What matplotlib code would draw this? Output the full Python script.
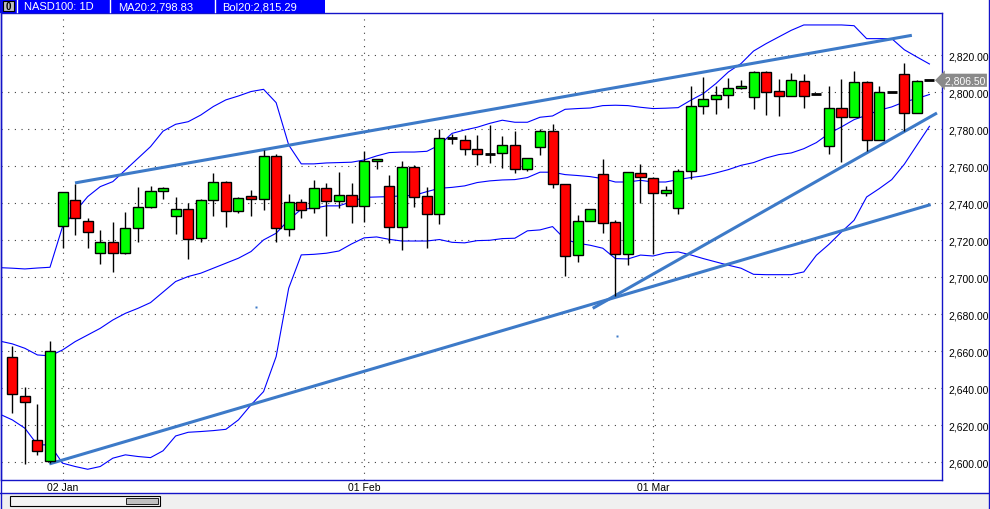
import numpy as np
import matplotlib
matplotlib.use('Agg')
import matplotlib.pyplot as plt
from matplotlib.patches import Rectangle
from matplotlib.ticker import FuncFormatter

# daily OHLC, NASD100
opens = [2656.8, 2635.7, 2611.9, 2600.7, 2727.6, 2741.6, 2730.3, 2713.0, 2719.3, 2713.0,
         2726.5, 2737.8, 2746.5, 2733.0, 2736.8, 2721.1, 2741.6, 2751.4, 2735.7, 2743.8,
         2742.2, 2765.4, 2726.0, 2740.5, 2737.5, 2748.1, 2741.1, 2744.3, 2738.4, 2762.7,
         2749.2, 2727.0, 2759.5, 2743.8, 2734.1, 2775.3, 2774.1, 2769.2, 2766.8, 2767.0,
         2771.4, 2758.4, 2770.3, 2778.9, 2750.3, 2711.9, 2730.3, 2755.7, 2729.7, 2712.4,
         2756.2, 2753.9, 2745.8, 2737.7, 2757.7, 2792.8, 2796.6, 2798.7, 2802.5, 2797.7,
         2811.2, 2800.9, 2798.2, 2806.3, 2798.9, 2771.2, 2791.7, 2786.8, 2805.8, 2774.4,
         2800.4, 2810.1, 2789.0, 2806.5]
highs = [2663.1, 2640.5, 2631.5, 2665.4, 2746.2, 2750.3, 2732.1, 2725.4, 2729.7, 2735.1,
         2748.8, 2749.2, 2749.0, 2743.4, 2740.0, 2742.3, 2756.4, 2752.1, 2743.6, 2747.2,
         2768.8, 2766.5, 2745.0, 2742.2, 2752.6, 2750.8, 2756.9, 2750.8, 2768.3, 2763.8,
         2755.1, 2762.7, 2760.6, 2748.6, 2780.0, 2777.3, 2776.8, 2776.8, 2782.5, 2776.2,
         2779.1, 2764.5, 2780.2, 2782.7, 2750.5, 2733.7, 2736.8, 2764.0, 2730.8, 2757.0,
         2761.1, 2754.0, 2749.2, 2758.7, 2803.2, 2808.1, 2803.6, 2807.6, 2806.8, 2811.7,
         2811.7, 2807.4, 2810.6, 2810.1, 2798.9, 2803.2, 2807.0, 2811.4, 2806.0, 2803.6,
         2800.4, 2816.0, 2806.8, 2806.5]
lows = [2626.8, 2598.9, 2604.1, 2599.5, 2716.0, 2723.1, 2715.7, 2707.0, 2703.1, 2712.4,
        2719.3, 2737.5, 2742.5, 2723.6, 2710.1, 2719.0, 2733.3, 2727.4, 2734.6, 2733.0,
        2736.4, 2719.3, 2722.5, 2732.0, 2735.0, 2722.2, 2737.3, 2729.5, 2730.1, 2758.4,
        2718.7, 2715.0, 2738.2, 2716.0, 2729.0, 2772.3, 2766.0, 2760.9, 2761.7, 2759.3,
        2756.2, 2757.7, 2766.3, 2748.5, 2700.5, 2708.5, 2730.3, 2724.1, 2689.7, 2706.5,
        2740.4, 2712.6, 2744.0, 2734.2, 2753.3, 2788.3, 2788.3, 2791.5, 2802.0, 2791.2,
        2787.9, 2787.4, 2798.0, 2791.5, 2798.9, 2766.7, 2762.3, 2786.8, 2768.3, 2774.0,
        2800.4, 2779.3, 2789.0, 2806.5]
closes = [2636.8, 2632.4, 2605.9, 2660.4, 2745.9, 2732.1, 2724.3, 2719.3, 2713.0, 2726.5,
          2737.8, 2746.5, 2748.1, 2736.8, 2720.5, 2741.6, 2751.4, 2735.7, 2742.7, 2742.2,
          2765.4, 2726.5, 2740.5, 2736.2, 2748.1, 2741.1, 2744.3, 2738.4, 2762.7, 2763.8,
          2727.0, 2759.5, 2743.6, 2734.1, 2775.1, 2775.3, 2769.2, 2766.5, 2766.8, 2771.4,
          2758.4, 2764.3, 2778.9, 2750.3, 2711.4, 2730.3, 2736.8, 2729.2, 2712.4, 2756.8,
          2754.1, 2745.6, 2747.4, 2757.7, 2792.8, 2796.6, 2798.7, 2802.5, 2803.6, 2811.2,
          2800.4, 2798.2, 2806.8, 2798.2, 2798.9, 2791.7, 2786.8, 2805.8, 2774.4, 2800.4,
          2800.4, 2789.0, 2806.3, 2806.5]

# Bollinger(20): upper, middle (MA20), lower -- first value is the bar just off the left edge
bol_up = [2705.2,
          2704.9, 2704.5, 2705.0, 2705.4, 2727.4, 2735.5, 2743.6, 2749.0, 2751.7, 2758.0,
          2764.3, 2770.6, 2779.0, 2782.7, 2784.1, 2787.7, 2792.3, 2795.9, 2798.0, 2800.4,
          2801.6, 2794.4, 2771.5, 2761.3, 2761.3, 2761.8, 2762.0, 2762.2, 2763.4, 2765.6,
          2767.4, 2767.7, 2767.7, 2768.1, 2771.5, 2777.8, 2779.6, 2781.1, 2783.2, 2784.9,
          2783.8, 2783.8, 2786.5, 2787.2, 2790.8, 2791.2, 2791.5, 2792.8, 2793.0, 2792.8,
          2791.9, 2791.2, 2791.4, 2791.7, 2795.7, 2799.3, 2804.7, 2811.0, 2815.5, 2822.3,
          2826.3, 2829.9, 2833.5, 2836.4, 2836.4, 2836.4, 2836.4, 2836.0, 2829.0, 2829.0,
          2829.0, 2823.0, 2819.1, 2815.3]
bol_mid = [2665.5,
           2664.0, 2661.6, 2658.0, 2657.5, 2660.7, 2665.2, 2668.8, 2672.4, 2676.9, 2680.5,
           2683.2, 2686.3, 2692.0, 2697.7, 2700.4, 2702.2, 2704.9, 2707.6, 2710.3, 2713.9,
           2720.2, 2723.8, 2731.0, 2736.8, 2737.3, 2738.6, 2738.6, 2740.9, 2743.2, 2743.4,
           2743.6, 2744.0, 2744.3, 2746.3, 2748.1, 2748.6, 2749.4, 2751.2, 2752.1, 2752.6,
           2752.8, 2753.9, 2756.8, 2756.8, 2755.5, 2755.0, 2754.4, 2753.3, 2751.5, 2751.5,
           2752.4, 2751.5, 2751.5, 2752.8, 2753.9, 2754.8, 2756.4, 2758.2, 2760.5, 2762.0,
           2764.5, 2766.3, 2767.2, 2769.5, 2772.8, 2777.7, 2781.3, 2785.2, 2787.6, 2790.3,
           2792.1, 2794.8, 2796.6, 2798.8]
bol_low = [2626.0,
           2622.9, 2618.4, 2609.4, 2609.4, 2599.5, 2597.7, 2596.2, 2597.7, 2602.2, 2604.0,
           2603.1, 2602.5, 2606.2, 2614.2, 2616.2, 2616.6, 2617.1, 2617.8, 2622.9, 2631.0,
           2638.2, 2657.1, 2694.1, 2712.1, 2712.4, 2713.0, 2714.2, 2718.0, 2721.3, 2721.8,
           2720.5, 2719.6, 2719.6, 2719.6, 2720.4, 2718.9, 2718.6, 2719.8, 2720.0, 2720.9,
           2721.1, 2725.1, 2725.6, 2727.4, 2720.5, 2718.4, 2717.3, 2715.7, 2710.1, 2709.9,
           2712.0, 2711.5, 2713.2, 2713.7, 2712.1, 2710.1, 2708.3, 2706.5, 2704.9, 2701.6,
           2701.4, 2701.4, 2701.4, 2702.9, 2711.9, 2717.8, 2724.5, 2730.8, 2743.4, 2747.9,
           2752.8, 2761.1, 2771.4, 2781.6]

# hand-drawn trend lines: (x0, y0, x1, y1) in bar index / price
trend_lines = [(4.99, 2751.0, 71.6, 2830.8),
               (2.95, 2599.1, 73.1, 2739.3),
               (46.2, 2683.2, 73.6, 2788.8)]
stray_dots_x = [19.4, 48.1]
stray_dots_y = [2683.8, 2668.4]

date_pos = [4, 28, 51]
date_labels = ['02 Jan', '01 Feb', '01 Mar']
price_ticks = list(range(2600, 2821, 20))

W, H = 990, 510
BLUE = '#0000ff'
FRAME = '#1414c8'
TREND = '#3d7ac8'


def fx(x):
    return x / W


def fy(y):
    return 1 - y / H


fig = plt.figure(figsize=(9.9, 5.1), dpi=100)
fig.patch.set_facecolor('white')

ax = fig.add_axes([fx(1), fy(481), fx(942) - fx(1), fy(14.3) - fy(481)])
ax.set_xlim(-0.9, 74.0)
ax.set_ylim(2590.4, 2842.7)

dots = dict(color='#404040', lw=0.8, ls=(0, (1, 5)), zorder=0)
for p in price_ticks:
    ax.axhline(p, **dots)
for d in date_pos:
    ax.axvline(d, **dots)

idx = np.arange(len(opens))
band_idx = np.arange(-1, len(opens))
ax.plot(band_idx, bol_up, color=BLUE, lw=0.8, zorder=1)
ax.plot(band_idx, bol_mid, color=BLUE, lw=0.8, zorder=1)
ax.plot(band_idx, bol_low, color=BLUE, lw=0.8, zorder=1)

for x0, y0, x1, y1 in trend_lines:
    ax.plot([x0, x1], [y0, y1], color=TREND, lw=2.2, solid_capstyle='butt', zorder=2)
ax.plot(stray_dots_x, stray_dots_y, ls='none', marker='s', ms=1.6, color=TREND, mec='none')

# candles
for i in idx:
    o, h, l, c = opens[i], highs[i], lows[i], closes[i]
    ax.vlines(i, l, h, color='black', lw=1.0, zorder=3)
    if abs(c - o) < 0.5:
        ax.hlines(o, i - 0.4, i + 0.4, color='black', lw=2.0, zorder=4)
    else:
        col = '#00ff00' if c > o else '#ff0000'
        ax.bar(i, abs(c - o), bottom=min(o, c), width=0.8, color=col,
               edgecolor='black', linewidth=1.0, zorder=4)

for s in ax.spines.values():
    s.set_color(FRAME)
    s.set_linewidth(1.0)

ax.set_xticks(date_pos)
ax.set_xticklabels(date_labels, family=['Liberation Sans Narrow', 'Liberation Sans'],
                   fontsize=7.5)
ax.yaxis.tick_right()
ax.set_yticks(price_ticks)
ax.yaxis.set_major_formatter(FuncFormatter(lambda v, p: f'{v:,.2f}'))
ax.tick_params(axis='y', length=0, pad=4.5, labelsize=7.5)
ax.tick_params(axis='x', length=0, pad=1.5)
for t in ax.get_yticklabels():
    t.set_family('Liberation Sans')

# last price tag
ax.text(1.0, closes[-1], ' 2,806.50', transform=ax.get_yaxis_transform(),
        ha='left', va='center', fontsize=7.5, family='Liberation Sans', color='white',
        bbox=dict(boxstyle='larrow,pad=0.15', fc='#8a8a8a', ec='none'), zorder=10,
        clip_on=False)

# header bar
fig.patches.append(Rectangle((fx(0), fy(14)), fx(325), 14 / H, transform=fig.transFigure,
                             fc=BLUE, ec='none'))
fig.patches.append(Rectangle((fx(3), fy(12)), fx(11), 10 / H, transform=fig.transFigure,
                             fc='#c0c0c0', ec='black', lw=0.8))
fig.text(fx(8.5), fy(7), '0', ha='center', va='center', fontsize=7, fontweight='bold',
         family='Liberation Sans')
for sx in [17, 110, 215]:
    fig.lines.append(plt.Line2D([fx(sx), fx(sx)], [fy(1), fy(13)], transform=fig.transFigure,
                                color='white', lw=1.0))
for tx, txt in [(24, 'NASD100: 1D'), (118, 'MA20:2,798.83'), (222, 'Bol20:2,815.29')]:
    fig.text(fx(tx), fy(7.5), txt, ha='left', va='center', color='white', fontsize=8,
             family='Liberation Sans')

# bottom strip with scrollbar
fig.patches.append(Rectangle((0, 0), 1, 16 / H, transform=fig.transFigure,
                             fc='#f0f0f0', ec='none'))
fig.lines.append(plt.Line2D([0, 1], [fy(494), fy(494)], transform=fig.transFigure,
                            color=FRAME, lw=1.0))
fig.patches.append(Rectangle((fx(10), fy(507)), fx(150), 10 / H, transform=fig.transFigure,
                             fc='#f4f4f4', ec='black', lw=0.8))
fig.patches.append(Rectangle((fx(126), fy(505)), fx(32), 6 / H, transform=fig.transFigure,
                             fc='#c0c0c0', ec='black', lw=0.6))

# outer frame
fig.lines.append(plt.Line2D([fx(0.5), fx(0.5)], [0, 1], transform=fig.transFigure,
                            color=FRAME, lw=1.0))
fig.lines.append(plt.Line2D([fx(989), fx(989)], [0, 1], transform=fig.transFigure,
                            color=FRAME, lw=1.0))

fig.savefig('out.png', dpi=100)
